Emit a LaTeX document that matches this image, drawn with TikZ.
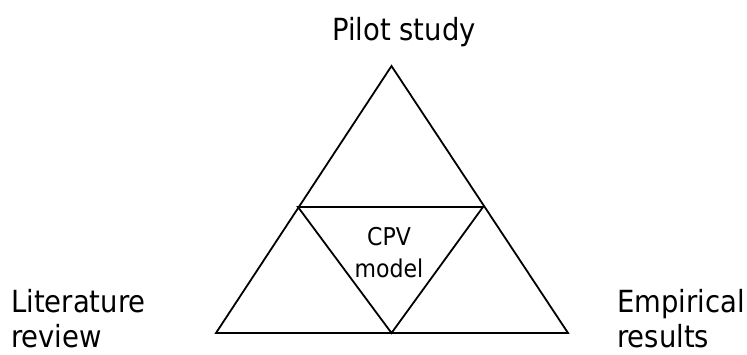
\documentclass[tikz,border=0pt]{standalone}
\usepackage{fontspec}
\setmainfont{DejaVu Sans Condensed}
\begin{document}
\begin{tikzpicture}[x=1pt,y=-1pt,
  edge/.style={draw=black,line width=1.8pt,line join=miter},
  biglabel/.style={inner sep=0pt,font=\fontsize{30.5}{35}\selectfont},
  smalllabel/.style={inner sep=0pt,font=\fontsize{24.5}{32}\selectfont}]
\useasboundingbox (0,0) rectangle (747,354);
% outer triangle corners
\coordinate (apex) at (391.5,66);
\coordinate (bl) at (216,333);
\coordinate (br) at (568,333);
% inner (inverted) triangle corners
\coordinate (il) at (298,207);
\coordinate (ir) at (483,207);
\coordinate (ib) at (391.5,333);
\draw[edge] (apex) -- (br) -- (bl) -- cycle;
\draw[edge] (il) -- (ir) -- (ib) -- cycle;
% labels
\node[biglabel,anchor=base] (pilot) at (404,40) {Pilot study};
\node[biglabel,anchor=base west] (lit1) at (11,312) {Literature};
\node[biglabel,anchor=base west] (lit2) at (11,347) {review};
\node[biglabel,anchor=base west] (emp1) at (617,312) {Empirical};
\node[biglabel,anchor=base west] (emp2) at (617,347) {results};
\node[smalllabel,anchor=base] (cpv1) at (389,245) {CPV};
\node[smalllabel,anchor=base] (cpv2) at (389,277) {model};
\end{tikzpicture}
\end{document}
